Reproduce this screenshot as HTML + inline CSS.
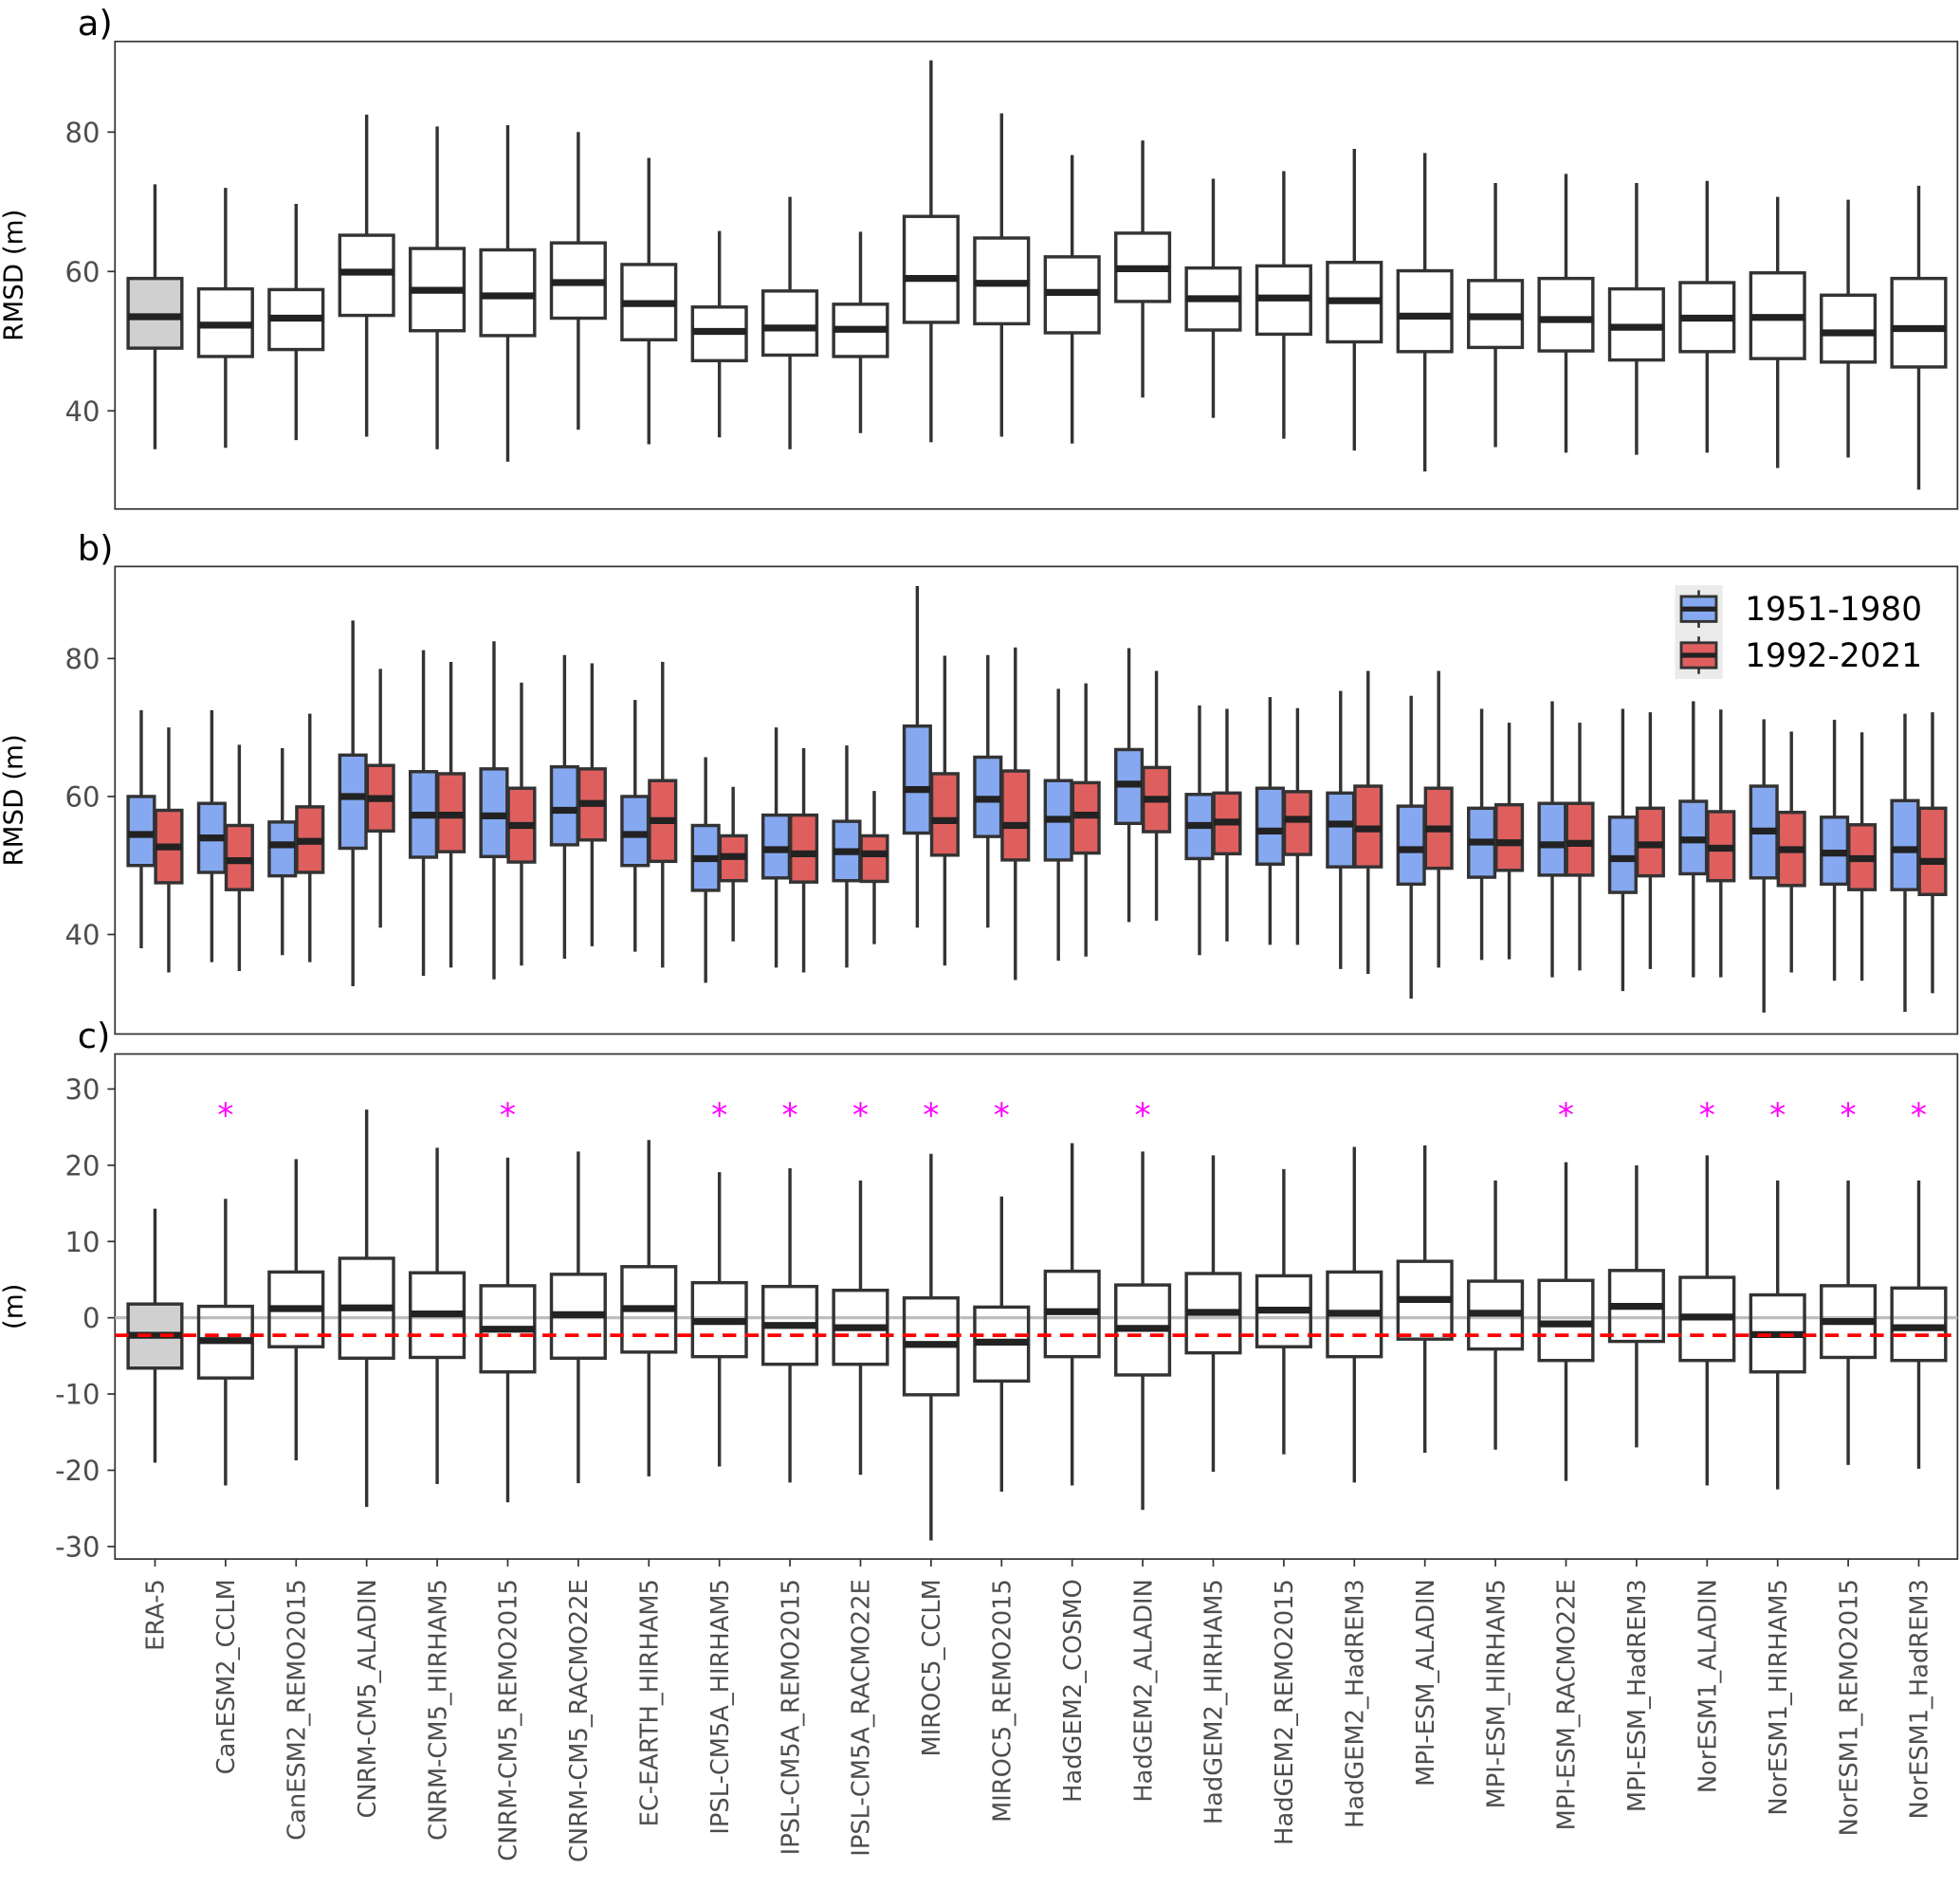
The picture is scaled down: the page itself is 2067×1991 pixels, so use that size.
<!DOCTYPE html>
<html><head><meta charset="utf-8"><style>
html,body{margin:0;padding:0;background:#fff;}
svg{display:block;font-family:"DejaVu Sans","Liberation Sans",sans-serif;}
</style></head><body>
<svg id="chart" width="2067" height="1991" viewBox="0 0 1568 1510" xmlns="http://www.w3.org/2000/svg"></svg>
<script>
const categories=["ERA-5","CanESM2_CCLM","CanESM2_REMO2015","CNRM-CM5_ALADIN","CNRM-CM5_HIRHAM5","CNRM-CM5_REMO2015","CNRM-CM5_RACMO22E","EC-EARTH_HIRHAM5","IPSL-CM5A_HIRHAM5","IPSL-CM5A_REMO2015","IPSL-CM5A_RACMO22E","MIROC5_CCLM","MIROC5_REMO2015","HadGEM2_COSMO","HadGEM2_ALADIN","HadGEM2_HIRHAM5","HadGEM2_REMO2015","HadGEM2_HadREM3","MPI-ESM_ALADIN","MPI-ESM_HIRHAM5","MPI-ESM_RACMO22E","MPI-ESM_HadREM3","NorESM1_ALADIN","NorESM1_HIRHAM5","NorESM1_REMO2015","NorESM1_HadREM3"];
// [lower whisker, q1, median, q3, upper whisker]
const panelA=[[34.5,49,53.5,59,72.5],[34.7,47.8,52.3,57.5,72],[35.8,48.8,53.3,57.4,69.7],[36.3,53.7,59.9,65.2,82.5],[34.5,51.5,57.3,63.3,80.8],[32.7,50.8,56.5,63.1,81],[37.3,53.3,58.4,64.1,80],[35.2,50.2,55.4,61,76.3],[36.2,47.2,51.4,54.9,65.8],[34.5,48,51.9,57.2,70.7],[36.8,47.8,51.7,55.3,65.7],[35.5,52.7,59,67.9,90.3],[36.3,52.5,58.3,64.8,82.7],[35.3,51.2,57,62.1,76.7],[41.9,55.7,60.4,65.5,78.8],[39,51.6,56.1,60.5,73.3],[36,51,56.2,60.8,74.4],[34.3,49.9,55.8,61.3,77.6],[31.3,48.5,53.6,60.1,77],[34.8,49.1,53.5,58.7,72.7],[34,48.6,53.1,59,74],[33.7,47.3,52,57.5,72.7],[34,48.5,53.3,58.4,73],[31.8,47.5,53.4,59.8,70.7],[33.3,47,51.2,56.6,70.3],[28.7,46.3,51.8,59,72.3]];
const panelBearly=[[38,50,54.5,60,72.5],[36,49,54,59,72.5],[37,48.5,53,56.3,67],[32.5,52.5,60,66,85.5],[34,51.2,57.3,63.6,81.2],[33.5,51.3,57.2,64,82.5],[36.5,53,58,64.3,80.5],[37.5,50,54.5,60,74],[33,46.4,51,55.8,65.7],[35.2,48.2,52.3,57.3,70],[35.2,47.8,52,56.4,67.4],[41,54.7,61,70.2,90.5],[41,54.2,59.6,65.7,80.5],[36.2,50.8,56.7,62.3,75.6],[41.8,56.1,61.8,66.8,81.5],[37,51,55.8,60.3,73.2],[38.5,50.2,55,61.2,74.4],[35,49.8,56,60.5,75.3],[30.7,47.3,52.3,58.6,74.6],[36.3,48.3,53.4,58.3,72.7],[33.8,48.6,53,59,73.8],[31.8,46.1,51,57,72.7],[33.8,48.8,53.7,59.3,73.8],[28.7,48.2,55,61.5,71.2],[33.3,47.3,51.8,57,71.1],[28.8,46.5,52.3,59.4,72]];
const panelBlate=[[34.5,47.5,52.7,58,70],[34.7,46.5,50.7,55.8,67.5],[36,49,53.5,58.5,72],[41,55,59.7,64.5,78.5],[35.2,52,57.3,63.3,79.5],[35.5,50.5,55.8,61.2,76.5],[38.3,53.7,59,64,79.3],[35.2,50.6,56.5,62.3,79.5],[39,47.8,51.3,54.3,61.4],[34.5,47.6,51.7,57.3,67],[38.6,47.7,51.7,54.3,60.8],[35.5,51.5,56.5,63.3,80.4],[33.4,50.8,55.8,63.7,81.6],[36.8,51.8,57.3,62,76.4],[42,54.9,59.6,64.2,78.2],[39,51.7,56.3,60.5,72.7],[38.5,51.6,56.7,60.7,72.8],[34.3,49.8,55.3,61.5,78.2],[35.2,49.6,55.3,61.2,78.2],[36.4,49.3,53.3,58.8,70.7],[34.8,48.6,53.2,59,70.7],[35,48.5,53,58.3,72.2],[33.8,47.8,52.5,57.8,72.6],[34.5,47.1,52.3,57.7,69.4],[33.3,46.5,51,55.9,69.3],[31.5,45.8,50.6,58.3,72.2]];
const panelC=[[-19,-6.6,-2.3,1.8,14.3],[-22,-7.9,-3,1.5,15.6],[-18.7,-3.8,1.2,6,20.8],[-24.8,-5.3,1.3,7.8,27.3],[-21.8,-5.2,0.5,5.9,22.3],[-24.2,-7.1,-1.5,4.2,21],[-21.7,-5.3,0.4,5.7,21.8],[-20.8,-4.5,1.2,6.7,23.3],[-19.5,-5.1,-0.5,4.6,19.1],[-21.6,-6.1,-1,4.1,19.6],[-20.6,-6.1,-1.3,3.6,18],[-29.2,-10.1,-3.5,2.6,21.5],[-22.8,-8.3,-3.2,1.4,15.9],[-22,-5.1,0.8,6.1,22.9],[-25.2,-7.5,-1.4,4.3,21.8],[-20.2,-4.6,0.7,5.8,21.3],[-17.9,-3.8,1,5.5,19.5],[-21.6,-5.1,0.6,6,22.4],[-17.7,-2.8,2.4,7.4,22.6],[-17.3,-4.1,0.6,4.8,18],[-21.4,-5.6,-0.8,4.9,20.4],[-17,-3.1,1.5,6.2,20],[-22,-5.6,0.1,5.3,21.3],[-22.5,-7.1,-2.2,3,18],[-19.3,-5.2,-0.5,4.2,18],[-19.8,-5.6,-1.3,3.9,18]];
const significant=[0,1,0,0,0,1,0,0,1,1,1,1,1,0,1,0,0,0,0,0,1,0,1,1,1,1];
const ticksAB=[40,60,80];
const ticksC=[-30,-20,-10,0,10,20,30];
const eraMeanC=-2.3;

const NS="http://www.w3.org/2000/svg";
const svg=document.getElementById('chart');
function mk(tag,attrs,parent){const e=document.createElementNS(NS,tag);for(const k in attrs)e.setAttribute(k,attrs[k]);(parent||svg).appendChild(e);return e;}
const X0=92,X1=1566;
function xPos(i){return 124+i*(1535-124)/(categories.length-1);}
const yA=v=>217-(v-60)*5.575;
const yB=v=>637-(v-60)*5.52;
const yC=v=>1054-v*6.1;
const LC="#333333";

function panel(name,top,bot,ticks,yf,label,letter){
  const g=mk('g',{});
  
  
  const r=mk('rect',{x:X0,y:top,width:X1-X0,height:bot-top,fill:'#fff',stroke:LC,'stroke-width':1.3},g);
  
  
  ticks.forEach(t=>{
    mk('line',{x1:X0-6,x2:X0,y1:yf(t),y2:yf(t),stroke:LC,'stroke-width':1.3},g);
    const tx=mk('text',{x:X0-12,y:yf(t)+8,'text-anchor':'end','font-size':22,fill:'#4d4d4d'},g);
    tx.textContent=t;
    
    
  });
  const yl=mk('text',{transform:`translate(18,${(top+bot)/2}) rotate(-90)`,'text-anchor':'middle','font-size':21,fill:'#000'},g);
  yl.textContent=label;
  
  
  const lt=mk('text',{x:62,y:top-5,'font-size':28,fill:'#000'},g);
  lt.textContent=letter;
  
  
  return g;
}
function box(g,cx,w,d,yf,fill){
  const b=mk('g',{},g);
  
  
  mk('line',{x1:cx,x2:cx,y1:yf(d[0]),y2:yf(d[1]),stroke:LC,'stroke-width':2.6},b);
  mk('line',{x1:cx,x2:cx,y1:yf(d[3]),y2:yf(d[4]),stroke:LC,'stroke-width':2.6},b);
  mk('rect',{x:cx-w/2,y:yf(d[3]),width:w,height:yf(d[1])-yf(d[3]),fill:fill,stroke:LC,'stroke-width':2.6},b);
  mk('line',{x1:cx-w/2,x2:cx+w/2,y1:yf(d[2]),y2:yf(d[2]),stroke:'#222','stroke-width':5.5},b);
}
const BLUE="#86a8f0",RED="#df5f5f";
const gA=panel('panel-a',33,407,ticksAB,yA,'RMSD (m)','a)');
panelA.forEach((d,i)=>box(gA,xPos(i),43,d,yA,i==0?'#d0d0d0':'#fff'));
const gB=panel('panel-b',453,827,ticksAB,yB,'RMSD (m)','b)');
panelBearly.forEach((d,i)=>box(gB,xPos(i)-11,21,d,yB,BLUE));
panelBlate.forEach((d,i)=>box(gB,xPos(i)+11,21,d,yB,RED));
const lg=mk('g',{},gB);


mk('rect',{x:1340,y:468,width:38,height:75,fill:'#ebebeb'},lg);
[[BLUE,'1951-1980',487],[RED,'1992-2021',524]].forEach(([c,t,y])=>{
  const e=mk('g',{},lg);
  
  
  mk('line',{x1:1359,x2:1359,y1:y-15,y2:y+15,stroke:LC,'stroke-width':2},e);
  mk('rect',{x:1345,y:y-10,width:28,height:20,fill:c,stroke:LC,'stroke-width':2.2},e);
  mk('line',{x1:1345,x2:1373,y1:y,y2:y,stroke:'#222','stroke-width':4},e);
  const tx=mk('text',{x:1396,y:y+9,'font-size':26,fill:'#000'},e);tx.textContent=t;
});
const gC=panel('panel-c',843,1247,ticksC,yC,'(m)','c)');
const zl=mk('line',{x1:X0,x2:X1,y1:yC(0),y2:yC(0),stroke:'#bdbdbd','stroke-width':2.5},gC);


panelC.forEach((d,i)=>{
  box(gC,xPos(i),43,d,yC,i==0?'#d0d0d0':'none');
  if(significant[i]){
    const s=mk('text',{x:xPos(i),y:901,'text-anchor':'middle','font-size':26,fill:'#ff00ff'},gC);
    s.textContent='*';
    
    
  }
});
const rl=mk('line',{x1:X0,x2:X1,y1:yC(eraMeanC),y2:yC(eraMeanC),stroke:'#ff0000','stroke-width':2.8,'stroke-dasharray':'11,7'},gC);


categories.forEach((c,i)=>{
  const x=xPos(i);
  mk('line',{x1:x,x2:x,y1:1247,y2:1253,stroke:LC,'stroke-width':1.3});
  const t=mk('text',{transform:`translate(${x+7},1263) rotate(-90)`,'text-anchor':'end','font-size':19.5,fill:'#4d4d4d'});
  t.textContent=c;
  
  
});
</script>
</body></html>
